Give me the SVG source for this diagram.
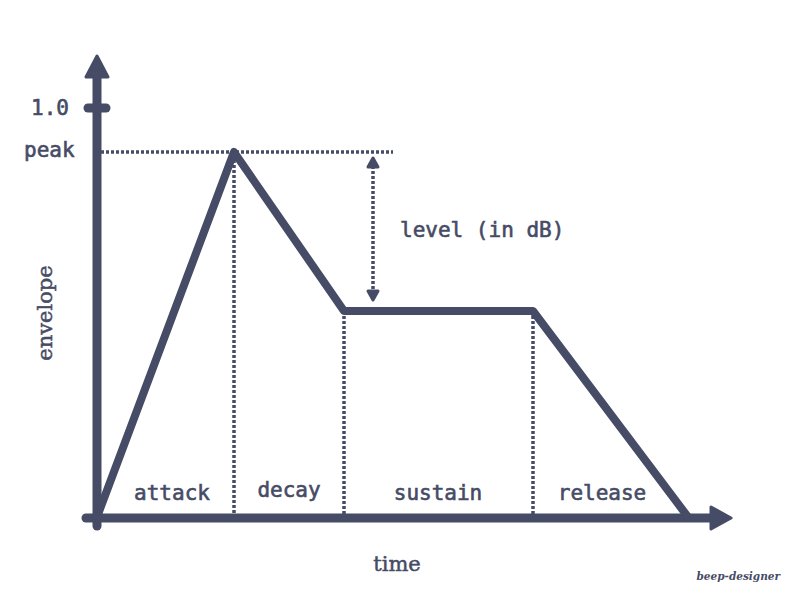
<svg xmlns="http://www.w3.org/2000/svg" width="800" height="600" viewBox="0 0 800 600">
<style>
.ax{stroke:#464b66;stroke-width:9;stroke-linecap:round;fill:none}
.env{stroke:#464b66;stroke-width:8;stroke-linejoin:round;stroke-linecap:round;fill:none}
.dot{stroke:#464b66;stroke-width:3.5;stroke-dasharray:3 2;fill:none}
.hd{fill:#464b66;stroke:#464b66;stroke-width:3;stroke-linejoin:round}
.mono{font-family:"DejaVu Sans Mono","Liberation Mono",monospace;font-size:21px;fill:#464b66;stroke:#464b66;stroke-width:0.6}
.serif{font-family:"DejaVu Serif","Liberation Serif",serif;font-size:21px;fill:#464b66;stroke:#464b66;stroke-width:0.5}
</style>
<rect width="800" height="600" fill="#ffffff"/>
<g id="axes">
<line class="ax" x1="97" y1="526" x2="97" y2="72"/>
<polygon class="hd" points="97,56 108,77 86,77"/>
<line class="ax" x1="86" y1="518" x2="716" y2="518"/>
<polygon class="hd" points="731,518 711,507 711,529"/>
<line class="ax" x1="88" y1="108" x2="106" y2="108"/>
</g>
<g id="connectors">
<line class="dot" x1="101" y1="152" x2="393" y2="152"/>
<line class="dot" x1="234" y1="160" x2="234" y2="514"/>
<line class="dot" x1="344" y1="316" x2="344" y2="514"/>
<line class="dot" x1="533" y1="316" x2="533" y2="514"/>
<line class="dot" x1="373" y1="166" x2="373" y2="292"/>
<polygon class="hd" points="373,158 378,167 368,167"/>
<polygon class="hd" points="373,300 378,291 368,291"/>
</g>
<g id="envelope">
<polyline class="env" points="97,517 234,152 344,311 533,311 688,517"/>
</g>
<g id="labels">
<text class="mono" x="69" y="115" text-anchor="end">1.0</text>
<text class="mono" x="24" y="157">peak</text>
<text class="mono" x="400" y="237">level (in dB)</text>
<text class="mono" x="172" y="500" text-anchor="middle">attack</text>
<text class="mono" x="289" y="497" text-anchor="middle">decay</text>
<text class="mono" x="438" y="500" text-anchor="middle">sustain</text>
<text class="mono" x="602" y="500" text-anchor="middle">release</text>
<text class="serif" x="397" y="571" text-anchor="middle">time</text>
<text class="serif" transform="translate(52,313) rotate(-90)" text-anchor="middle">envelope</text>
<text x="780" y="580" text-anchor="end" font-family="DejaVu Serif, serif" font-size="10.5" font-weight="bold" font-style="italic" fill="#464b66">beep-designer</text>
</g>
</svg>
